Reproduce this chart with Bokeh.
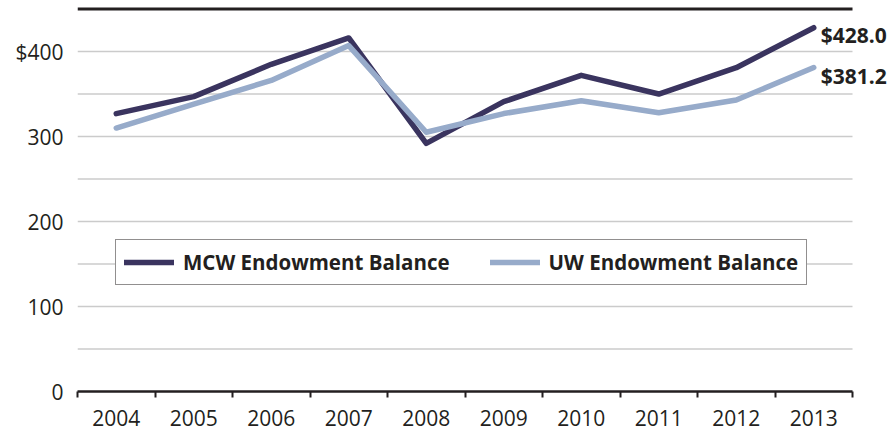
from bokeh.plotting import figure
from bokeh.models import FixedTicker, Range1d, Legend
from bokeh.core.properties import value
from bokeh.embed import file_html
from bokeh.resources import INLINE

years = [2004, 2005, 2006, 2007, 2008, 2009, 2010, 2011, 2012, 2013]
mcw = [327, 347, 385, 416, 292, 341, 372, 350, 381, 428.0]
uw = [310, 338, 366, 407, 305, 327, 342, 328, 343, 381.2]
series_names = ["MCW Endowment Balance", "UW Endowment Balance"]
y_ticks = [0, 100, 200, 300, 400]
grid_ticks = [50, 100, 150, 200, 250, 300, 350, 400]
y_top = 450

FONT = "Open Sans"
TXT = "#231f20"
C_MCW = "#3a345f"
C_UW = "#97abca"

x_lo = years[0] - 0.5
x_hi = years[-1] + 0.5
# frame extends to the right edge so the end labels are not clipped
x_end = x_hi + 43 / 77.5

p = figure(width=895, height=432, output_backend="svg", toolbar_location=None,
           x_range=Range1d(x_lo, x_end),
           y_range=Range1d(0, y_top + 3),
           min_border_left=77, min_border_right=0, min_border_top=6, min_border_bottom=41)
p.outline_line_color = None
p.background_fill_color = "white"
p.xgrid.visible = False
p.ygrid.visible = False

# horizontal grid lines limited to the plotted years
n = len(grid_ticks)
p.segment(x0=[x_lo] * n, y0=grid_ticks, x1=[x_hi] * n, y1=grid_ticks,
          line_color="#cbcbcb", line_width=1.5, level="underlay")
# top rule
p.segment(x0=[x_lo], y0=[y_top], x1=[x_hi], y1=[y_top],
          line_color=TXT, line_width=3, level="underlay")

# y axis
p.yaxis.ticker = FixedTicker(ticks=y_ticks)
p.yaxis.major_label_overrides = {400: "$400"}
p.yaxis.axis_line_color = None
p.yaxis.major_tick_line_color = None
p.yaxis.minor_tick_line_color = None
p.yaxis.major_tick_out = 0
p.yaxis.major_label_standoff = 14
p.yaxis.major_label_text_font = FONT
p.yaxis.major_label_text_font_size = "21px"
p.yaxis.major_label_text_color = TXT

# x axis
p.xaxis.ticker = FixedTicker(ticks=years, minor_ticks=[y - 0.5 for y in years] + [x_hi])
p.xaxis.bounds = (x_lo, x_hi)
p.xaxis.major_label_overrides = {y: str(y) for y in years}
p.xaxis.axis_line_color = TXT
p.xaxis.axis_line_width = 2.5
p.xaxis.major_tick_line_color = None
p.xaxis.major_tick_out = 0
p.xaxis.major_tick_in = 0
p.xaxis.minor_tick_line_color = TXT
p.xaxis.minor_tick_line_width = 2
p.xaxis.minor_tick_out = 6
p.xaxis.minor_tick_in = 0
p.xaxis.major_label_standoff = 12
p.xaxis.major_label_text_font = FONT
p.xaxis.major_label_text_font_size = "21px"
p.xaxis.major_label_text_color = TXT

r1 = p.line(years, mcw, line_color=C_MCW, line_width=5.5, line_join="round", line_cap="round")
r2 = p.line(years, uw, line_color=C_UW, line_width=5.5, line_join="round", line_cap="round")

# end labels
for vals, dy in ((mcw, 7), (uw, 8)):
    p.text(x=[years[-1]], y=[vals[-1]], text=[f"${vals[-1]:.1f}"], x_offset=7, y_offset=dy,
           text_font=value(FONT), text_font_style="bold", text_font_size="21px",
           text_color=TXT, text_baseline="middle", text_align="left")

legend = Legend(items=[(series_names[0], [r1]), (series_names[1], [r2])],
                location=(38, 106), orientation="horizontal",
                glyph_width=50, glyph_height=14, label_standoff=9, spacing=40,
                padding=8, margin=0,
                label_text_font=FONT, label_text_font_style="bold",
                label_text_font_size="20.5px", label_text_color=TXT,
                border_line_color=TXT, border_line_width=1.5,
                background_fill_color="white", background_fill_alpha=1.0)
p.add_layout(legend, "center")

open("out.html", "w").write(file_html(p, INLINE))
